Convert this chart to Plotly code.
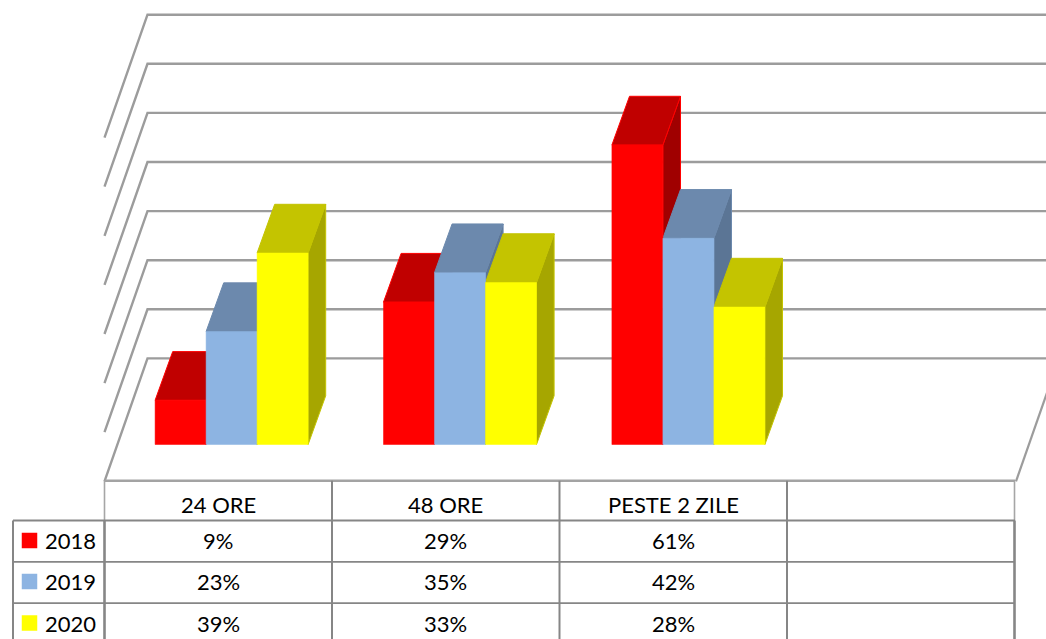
import plotly.graph_objects as go

categories = ["24 ORE", "48 ORE", "PESTE 2 ZILE"]
years = ["2018", "2019", "2020"]
v2018 = [9, 29, 61]
v2019 = [23, 35, 42]
v2020 = [39, 33, 28]
gridlines = [0, 10, 20, 30, 40, 50, 60, 70]

series = [v2018, v2019, v2020]
front = ["#FF0000", "#8DB4E2", "#FFFF00"]
top = ["#C00000", "#6C89AD", "#C4C400"]
side = ["#A00000", "#5B7595", "#A6A600"]
edge = ["#FF0000", "#6C89AD", "#C4C400"]

W, H = 1046, 639
PX_CAT = 228.4       # pixels per category
PX_VAL = 4.91        # pixels per percentage point
X0 = 231.6           # pixel of first category centre
Y0 = 444.5           # pixel of the bars' base

def px_x(p):
    return (p - X0) / PX_CAT

def px_y(p):
    return (Y0 - p) / PX_VAL

xr = [px_x(0), px_x(W)]
yr = [px_y(H), px_y(0)]

BAR_W = 51 / PX_CAT
DEPTH_X = 17.6 / PX_CAT
DEPTH_Y = 48.7 / PX_VAL

fig = go.Figure()
GRID = "#9C9C9C"
wall_x = px_x(147.5)
front_x = px_x(104.5)
wall_base = px_y(358.4)
front_base = px_y(481.3)
far = px_x(1016)

# wall and floor lines
for g in gridlines:
    fig.add_trace(go.Scatter(
        x=[front_x, wall_x, xr[1]],
        y=[front_base + g, wall_base + g, wall_base + g],
        mode="lines", line=dict(color=GRID, width=2.4),
        hoverinfo="skip", showlegend=False, cliponaxis=True))
fig.add_trace(go.Scatter(
    x=[far, far + (wall_x - front_x)], y=[front_base, wall_base],
    mode="lines", line=dict(color=GRID, width=2.2),
    hoverinfo="skip", showlegend=False))

# tops and sides of the bars, painted from left to right
for c in range(len(categories)):
    for s, vals in enumerate(series):
        left = c + (s - 1.5) * BAR_W
        right = left + BAR_W
        v = vals[c]
        fig.add_trace(go.Scatter(
            x=[right, right + DEPTH_X, right + DEPTH_X, right, right],
            y=[0, DEPTH_Y, v + DEPTH_Y, v, 0],
            mode="lines", fill="toself", fillcolor=side[s],
            line=dict(color=edge[s], width=1),
            hoverinfo="skip", showlegend=False))
        fig.add_trace(go.Scatter(
            x=[left, left + DEPTH_X, right + DEPTH_X, right, left],
            y=[v, v + DEPTH_Y, v + DEPTH_Y, v, v],
            mode="lines", fill="toself", fillcolor=top[s],
            line=dict(color=edge[s], width=1),
            hoverinfo="skip", showlegend=False))

# fronts of the bars, on an overlaid pair of axes so they cover the sides
for s, vals in enumerate(series):
    fig.add_trace(go.Bar(
        x=list(range(len(categories))), y=vals, name=years[s],
        marker=dict(color=front[s], line=dict(color=front[s], width=0.5)),
        xaxis="x2", yaxis="y2", showlegend=False))

# data table
TC = "#868686"
shapes = []

def line(x0, y0, x1, y1, w, color=TC):
    shapes.append(dict(type="line", xref="x", yref="y", layer="above",
                       x0=px_x(x0), y0=px_y(y0), x1=px_x(x1), y1=px_y(y1),
                       line=dict(color=color, width=w)))

col_edges = [104.5, 332, 559.5, 787, 1014.5]
row_edges = [480.8, 520.5, 561.8, 603.2]
line(104.5, row_edges[0], 1015, row_edges[0], 2.4, "#A3A3A3")
for i, xp in enumerate(col_edges):
    outer = i in (0, 4)
    line(xp, row_edges[0], xp, row_edges[1], 1.6 if outer else 2, "#A6A6A6" if outer else TC)
    line(xp, row_edges[1], xp, H, 2.6 if outer else 2)
line(13, row_edges[1], 13, H, 2)
for yp in row_edges[1:]:
    line(13, yp, 1015, yp, 1.8)

annotations = []
font = dict(family="Lato, Carlito, sans-serif", size=22, color="#000000")
col_centres = [218, 445.5, 673]
row_centres = [504.5, 540.5, 581.5, 623]

def label(xp, yp, text, f=font):
    annotations.append(dict(x=px_x(xp), y=px_y(yp), xref="x", yref="y", text=text,
                            showarrow=False, font=f, xanchor="center", yanchor="middle"))

for c, name in enumerate(categories):
    label(col_centres[c], row_centres[0], name)
    for s, vals in enumerate(series):
        label(col_centres[c], row_centres[s + 1], f"{vals[c]}%")
for s, year in enumerate(years):
    label(70.5, row_centres[s + 1], year)
    fig.add_trace(go.Scatter(
        x=[px_x(29.5)], y=[px_y(row_centres[s + 1])], mode="markers",
        marker=dict(symbol="square", size=15.5, color=front[s]),
        hoverinfo="skip", showlegend=False))

fig.update_layout(
    width=W, height=H, margin=dict(l=0, r=0, t=0, b=0),
    paper_bgcolor="white", plot_bgcolor="white",
    barmode="group", bargap=1 - 3 * BAR_W, bargroupgap=0,
    shapes=shapes, annotations=annotations, showlegend=False,
    xaxis=dict(range=xr, visible=False, fixedrange=True),
    yaxis=dict(range=yr, visible=False, fixedrange=True),
    xaxis2=dict(range=xr, visible=False, overlaying="x", fixedrange=True),
    yaxis2=dict(range=yr, visible=False, overlaying="y", fixedrange=True),
)

fig.write_html("out.html", config=dict(displayModeBar=False), post_script=(
    "document.body.style.margin='0';document.body.style.overflow='hidden';"))
